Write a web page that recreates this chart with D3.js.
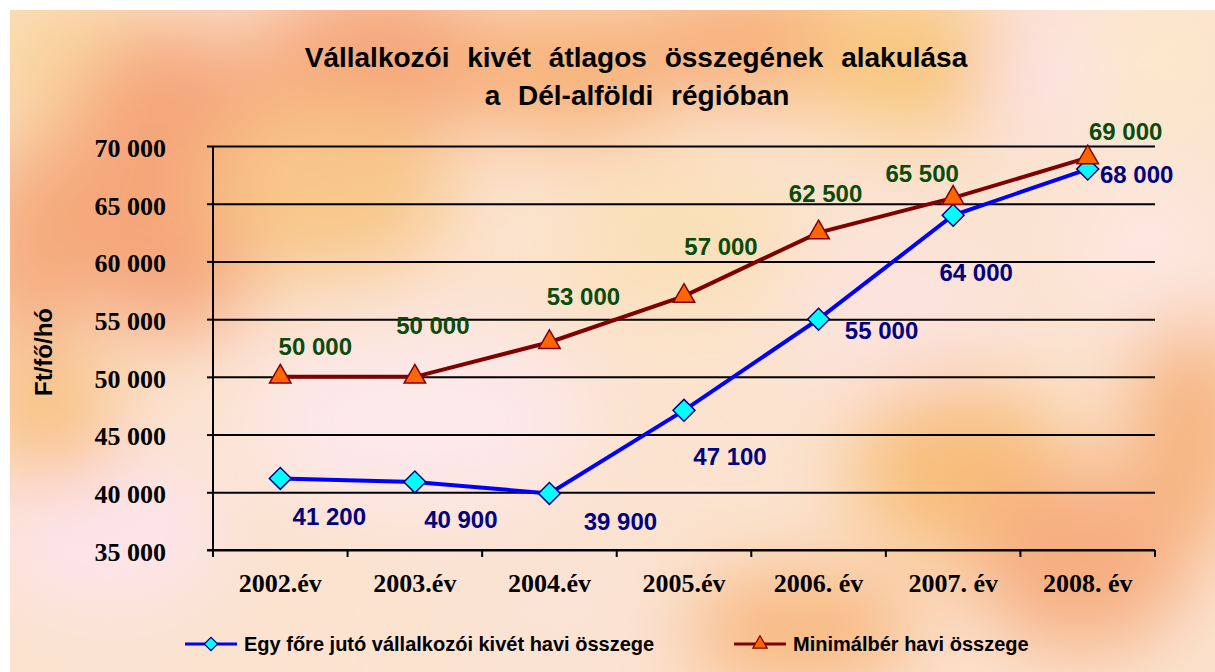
<!DOCTYPE html>
<html>
<head>
<meta charset="utf-8">
<script src="https://cdn.jsdelivr.net/npm/d3@7"></script>
<style>
  body { margin: 0; background: #fff; }
  svg { display: block; }
</style>
</head>
<body>
<div class="chart"></div>
<script>
// chart data
var years = ["2002.év", "2003.év", "2004.év", "2005.év", "2006. év", "2007. év", "2008. év"];
var kivet = [41200, 40900, 39900, 47100, 55000, 64000, 68000];
var minimalber = [50000, 50000, 53000, 57000, 62500, 65500, 69000];
var yTicks = [35000, 40000, 45000, 50000, 55000, 60000, 65000, 70000];
var seriesNames = ["Egy főre jutó vállalkozói kivét havi összege", "Minimálbér havi összege"];

// hand placed label offsets (dx, dy) like in the original sheet
var kivetLabelOff = [[49, 38], [46, 38], [71, 28], [46, 46], [63, 11], [23, 57], [49, 5]];
var minLabelOff = [[35, -30], [18, -51], [34, -46], [37, -50], [7, -39], [-31, -24], [38, -26]];

var svgWidth = 1215;
var svgHeight = 672;

var plot = { left: 213, right: 1155, top: 146, bottom: 550 };

var svg = d3.select(".chart")
    .append("svg")
    .attr("width", svgWidth)
    .attr("height", svgHeight);

// soft blotchy background
var defs = svg.append("defs");
defs.append("filter")
    .attr("id", "blur")
    .attr("x", "-50%").attr("y", "-50%")
    .attr("width", "200%").attr("height", "200%")
    .append("feGaussianBlur")
    .attr("stdDeviation", 40);
defs.append("clipPath")
    .attr("id", "bgclip")
    .append("rect")
    .attr("x", 10).attr("y", 10)
    .attr("width", svgWidth - 10).attr("height", svgHeight - 10);

var blobs = [
    [60, 60, 90, 80, "#f9d6a0"],
    [170, 180, 110, 160, "#f5a67a"],
    [30, 250, 60, 110, "#f5ab7c"],
    [380, 60, 130, 80, "#f5a67a"],
    [570, 70, 120, 70, "#f8b27a"],
    [760, 40, 140, 60, "#f7ae78"],
    [920, 60, 120, 70, "#f8c67c"],
    [1060, 70, 80, 60, "#fde2e6"],
    [1160, 60, 80, 80, "#fbe8cc"],
    [330, 190, 120, 90, "#f8c78a"],
    [680, 240, 120, 80, "#fae0b8"],
    [420, 420, 170, 90, "#fde8ec"],
    [110, 530, 110, 80, "#fde4ec"],
    [50, 420, 70, 60, "#f8c07a"],
    [960, 470, 110, 90, "#f8be7a"],
    [1080, 560, 110, 90, "#f6ad80"],
    [800, 630, 120, 60, "#f8b880"],
    [1190, 430, 60, 120, "#f6b27d"],
    [1150, 250, 80, 80, "#fde7e0"],
    [560, 610, 120, 60, "#fbe3d6"],
    [900, 310, 120, 80, "#fce3dd"]
];

var bg = svg.append("g").attr("clip-path", "url(#bgclip)");
bg.append("rect")
    .attr("x", 10).attr("y", 10)
    .attr("width", svgWidth - 10).attr("height", svgHeight - 10)
    .attr("fill", "#fbe3cf");
bg.append("g")
    .attr("filter", "url(#blur)")
    .selectAll("ellipse")
    .data(blobs)
    .enter()
    .append("ellipse")
    .attr("cx", function (d) { return d[0]; })
    .attr("cy", function (d) { return d[1]; })
    .attr("rx", function (d) { return d[2]; })
    .attr("ry", function (d) { return d[3]; })
    .attr("fill", function (d) { return d[4]; });

// title
var title = svg.append("text")
    .attr("text-anchor", "middle")
    .attr("font-family", "Liberation Sans, Arial, sans-serif")
    .attr("font-weight", "bold")
    .attr("font-size", "28px")
    .attr("word-spacing", "10px")
    .attr("fill", "#000");
title.append("tspan").attr("x", 636).attr("y", 67).text("Vállalkozói kivét átlagos összegének alakulása");
title.append("tspan").attr("x", 637).attr("y", 105).text("a Dél-alföldi régióban");

// scales
var xScale = d3.scaleBand().domain(years).range([plot.left, plot.right]).padding(0);
var yScale = d3.scaleLinear().domain([35000, 70000]).range([plot.bottom, plot.top]);
function cx(i) { return xScale(years[i]) + xScale.bandwidth() / 2; }

var fmt = function (v) { return d3.format(",")(v).replace(/,/g, " "); };

// gridlines
svg.append("g")
    .attr("transform", `translate(${plot.left},0)`)
    .call(d3.axisLeft(yScale).tickValues(yTicks).tickSize(-(plot.right - plot.left)).tickFormat(""))
    .call(function (g) { g.select(".domain").remove(); })
    .selectAll("line")
    .attr("stroke", "#000")
    .attr("stroke-width", 2);

// y axis
var yAxis = svg.append("g")
    .attr("transform", `translate(${plot.left},0)`)
    .call(d3.axisLeft(yScale).tickValues(yTicks).tickSize(6).tickPadding(41).tickFormat(fmt));
yAxis.select(".domain").attr("d", `M0,${plot.top}V${plot.bottom + 7}`).attr("stroke", "#000").attr("stroke-width", 2);
yAxis.selectAll(".tick line").attr("stroke", "#000").attr("stroke-width", 2);
yAxis.selectAll("text")
    .attr("font-family", "Liberation Serif, Times New Roman, serif")
    .attr("font-weight", "bold")
    .attr("font-size", "26px")
    .attr("fill", "#000")
    .attr("dy", "0.4em");

// x axis
var xAxis = svg.append("g")
    .attr("transform", `translate(0,${plot.bottom})`)
    .call(d3.axisBottom(xScale).tickSize(0).tickPadding(24));
xAxis.select(".domain").attr("d", `M${plot.left - 6},0H${plot.right}`).attr("stroke", "#000").attr("stroke-width", 2);
xAxis.selectAll("text")
    .attr("font-family", "Liberation Serif, Times New Roman, serif")
    .attr("font-weight", "bold")
    .attr("font-size", "26px")
    .attr("fill", "#000")
    .attr("dy", "0.71em");
xAxis.selectAll(".bound")
    .data(years.concat(["end"]))
    .enter()
    .append("line")
    .attr("class", "bound")
    .attr("x1", function (d) { return d === "end" ? plot.right : xScale(d); })
    .attr("x2", function (d) { return d === "end" ? plot.right : xScale(d); })
    .attr("y1", 0)
    .attr("y2", 7)
    .attr("stroke", "#000")
    .attr("stroke-width", 2);

// y axis title
svg.append("text")
    .attr("transform", "translate(43,352)rotate(-90)")
    .attr("text-anchor", "middle")
    .attr("dominant-baseline", "central")
    .attr("font-family", "Liberation Sans, Arial, sans-serif")
    .attr("font-weight", "bold")
    .attr("font-size", "24px")
    .text("Ft/fő/hó");

// lines
var line = d3.line()
    .x(function (d, i) { return cx(i); })
    .y(function (d) { return yScale(d); });

svg.append("path")
    .datum(minimalber)
    .attr("d", line)
    .attr("fill", "none")
    .attr("stroke", "#800000")
    .attr("stroke-width", 4);

svg.append("path")
    .datum(kivet)
    .attr("d", line)
    .attr("fill", "none")
    .attr("stroke", "#0000ff")
    .attr("stroke-width", 4);

var diamond = d3.symbol().type(d3.symbolSquare).size(240);
var triangle = d3.symbol().type(d3.symbolTriangle).size(200);

svg.selectAll(".dia")
    .data(kivet)
    .enter()
    .append("path")
    .attr("class", "dia")
    .attr("d", diamond)
    .attr("transform", function (d, i) { return `translate(${cx(i)},${yScale(d)})rotate(45)`; })
    .attr("fill", "#00ffff")
    .attr("stroke", "#000080")
    .attr("stroke-width", 1.5);

svg.selectAll(".tri")
    .data(minimalber)
    .enter()
    .append("path")
    .attr("class", "tri")
    .attr("d", triangle)
    .attr("transform", function (d, i) { return `translate(${cx(i)},${yScale(d)})`; })
    .attr("fill", "#ff6600")
    .attr("stroke", "#800000")
    .attr("stroke-width", 1.5);

// data labels
function addLabels(data, offs, color) {
    svg.append("g")
        .selectAll("text")
        .data(data)
        .enter()
        .append("text")
        .attr("x", function (d, i) { return cx(i) + offs[i][0]; })
        .attr("y", function (d, i) { return yScale(d) + offs[i][1]; })
        .attr("text-anchor", "middle")
        .attr("dominant-baseline", "central")
        .attr("font-family", "Liberation Sans, Arial, sans-serif")
        .attr("font-weight", "bold")
        .attr("font-size", "24px")
        .attr("fill", color)
        .text(fmt);
}
addLabels(minimalber, minLabelOff, "#0a4a0a");
addLabels(kivet, kivetLabelOff, "#000080");

// legend
var legend = svg.append("g");
var legendItems = [
    { name: seriesNames[0], x: 185, color: "#0000ff", sym: d3.symbol().type(d3.symbolSquare).size(90), rot: 45, fill: "#00ffff", edge: "#000080" },
    { name: seriesNames[1], x: 734, color: "#800000", sym: d3.symbol().type(d3.symbolTriangle).size(90), rot: 0, fill: "#ff6600", edge: "#800000" }
];
var li = legend.selectAll("g")
    .data(legendItems)
    .enter()
    .append("g")
    .attr("transform", function (d) { return `translate(${d.x},644)`; });
li.append("line")
    .attr("x1", 0).attr("x2", 52)
    .attr("y1", 0).attr("y2", 0)
    .attr("stroke", function (d) { return d.color; })
    .attr("stroke-width", 3);
li.append("path")
    .attr("d", function (d) { return d.sym(); })
    .attr("transform", function (d) { return `translate(26,0)rotate(${d.rot})`; })
    .attr("fill", function (d) { return d.fill; })
    .attr("stroke", function (d) { return d.edge; })
    .attr("stroke-width", 1.2);
li.append("text")
    .attr("x", 59)
    .attr("y", 0)
    .attr("dominant-baseline", "central")
    .attr("font-family", "Liberation Sans, Arial, sans-serif")
    .attr("font-weight", "bold")
    .attr("font-size", "20px")
    .attr("fill", "#000")
    .text(function (d) { return d.name; });
</script>
</body>
</html>
